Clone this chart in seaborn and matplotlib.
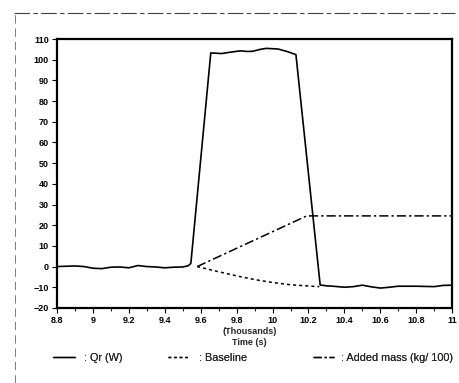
import numpy as np
import pandas as pd
import matplotlib
matplotlib.use("Agg")
import matplotlib.pyplot as plt
from matplotlib.lines import Line2D
import seaborn as sns

# Qr (W), time in thousands of seconds
time_qr = [8.8, 8.9, 8.95, 9.0, 9.05, 9.1, 9.15, 9.2, 9.25, 9.3, 9.35, 9.4, 9.45, 9.5, 9.53,
           9.545, 9.656, 9.717, 9.76, 9.82, 9.86, 9.89, 9.93, 9.965, 10.03, 10.08, 10.13,
           10.265, 10.3, 10.35, 10.4, 10.45, 10.5, 10.55, 10.6, 10.65, 10.7, 10.8, 10.9, 10.95, 11.0]
qr_values = [0.0, 0.3, 0.0, -0.8, -1.0, -0.3, -0.2, -0.6, 0.5, 0.0, -0.2, -0.6, -0.3, -0.2, 0.4,
             1.5, 103.3, 103.0, 103.6, 104.3, 104.0, 104.1, 105.0, 105.5, 105.2, 104.0, 102.5,
             -8.9, -9.3, -9.6, -10.0, -9.7, -9.0, -9.8, -10.4, -10.0, -9.5, -9.5, -9.7, -9.1, -9.0]

# Baseline
time_base = [9.58, 9.7, 9.8, 9.9, 10.0, 10.1, 10.2, 10.26]
base_values = [0.0, -2.5, -4.5, -6.3, -7.7, -8.8, -9.4, -9.7]

# Added mass (kg/100)
time_mass = [9.58, 10.19, 11.0]
mass_values = [0.0, 24.5, 24.5]

x_ticks = [8.8, 9.0, 9.2, 9.4, 9.6, 9.8, 10.0, 10.2, 10.4, 10.6, 10.8, 11.0]
x_labels = ["8.8", "9", "9.2", "9.4", "9.6", "9.8", "10", "10.2", "10.4", "10.6", "10.8", "11"]
y_ticks = list(range(-20, 111, 10))

series_labels = [": Qr (W)", ": Baseline", ": Added mass (kg/ 100)"]
dash_base = (0, (2, 2))
dash_mass = (0, (6, 2, 1.5, 2))

sns.set_theme(style="ticks")
plt.rcParams["font.family"] = ["Liberation Sans", "DejaVu Sans"]

fig = plt.figure(figsize=(4.6, 3.83), dpi=100)
ax = fig.add_axes([0.124, 0.196, 0.859, 0.702])

qr_df = pd.DataFrame({"t": time_qr, "v": qr_values})
base_df = pd.DataFrame({"t": time_base, "v": base_values})
mass_df = pd.DataFrame({"t": time_mass, "v": mass_values})

sns.lineplot(data=qr_df, x="t", y="v", ax=ax, color="black", lw=1.2, sort=False)
sns.lineplot(data=base_df, x="t", y="v", ax=ax, color="black", lw=1.1, linestyle=dash_base)
sns.lineplot(data=mass_df, x="t", y="v", ax=ax, color="black", lw=1.1, linestyle=dash_mass)

ax.set_xlim(8.8, 11.0)
ax.set_ylim(-20, 110)
ax.set_xticks(x_ticks)
ax.set_xticklabels(x_labels)
ax.set_xticks(np.arange(8.9, 11.0, 0.2), minor=True)
ax.set_yticks(y_ticks)
ax.tick_params(axis="both", which="major", labelsize=6.5, direction="out", length=3.5, width=0.8,
               pad=2.5, colors="black")
ax.tick_params(axis="x", which="minor", direction="out", length=2.5, width=0.8)
for lab in ax.get_xticklabels() + ax.get_yticklabels():
    lab.set_fontweight("bold")
for side in ["left", "right", "top", "bottom"]:
    ax.spines[side].set_visible(True)
    ax.spines[side].set_color("black")
    ax.spines[side].set_linewidth(1.6)
ax.set_xlabel("")
ax.set_ylabel("")

fig.text(0.543, 0.134, "(Thousands)", ha="center", va="center", fontsize=6.5, fontweight="bold")
fig.text(0.543, 0.107, "Time (s)", ha="center", va="center", fontsize=6.5, fontweight="bold")

# legend: three entries spaced like the original
handles = [
    Line2D([], [], color="black", lw=1.0),
    Line2D([], [], color="black", lw=1.0, linestyle=dash_base),
    Line2D([], [], color="black", lw=1.0, linestyle=dash_mass),
]
legend_x = [0.115, 0.365, 0.680]
text_pad = [0.9, 0.9, 0.6]
for h, lab, lx, tp in zip(handles, series_labels, legend_x, text_pad):
    leg = fig.legend([h], [lab], loc="center left", bbox_to_anchor=(lx, 0.065), frameon=False,
                     fontsize=7.8, handlelength=2.0, handletextpad=tp, borderpad=0,
                     borderaxespad=0)
    fig.add_artist(leg)

# scanned page frame
fig.add_artist(Line2D([0.03, 0.99], [0.967, 0.967], color="black", lw=0.8,
                      linestyle=(0, (14, 3, 4, 3)), alpha=0.75))
fig.add_artist(Line2D([0.032, 0.032], [0.0, 0.967], color="black", lw=0.6,
                      linestyle=(0, (10, 6)), alpha=0.6))

fig.savefig("out.png", dpi=100)
